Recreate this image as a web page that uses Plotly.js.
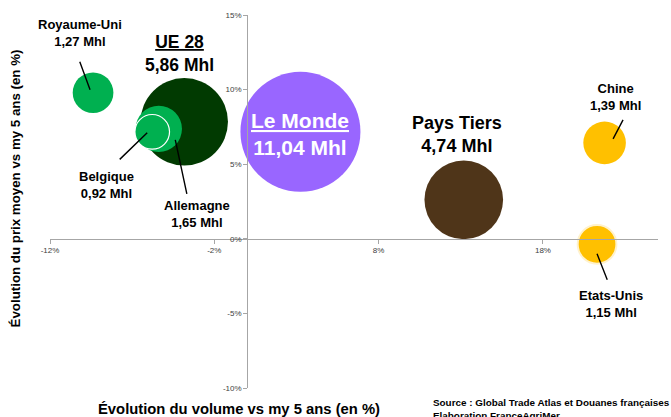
<!DOCTYPE html>
<html>
<head>
<meta charset="utf-8">
<script src="https://cdn.plot.ly/plotly-3.0.1.min.js"></script>
<style>html,body{margin:0;padding:0;background:#fff;}#chart{width:671px;height:417px;}</style>
</head>
<body>
<div id="chart"></div>
<script>
// ---- data ----
var names   = ["UE 28", "Allemagne", "Belgique", "Royaume-Uni", "Le Monde", "Pays Tiers", "Chine", "Etats-Unis"];
var volEvol = [-3.83, -5.38, -5.78, -9.38, 3.24, 13.18, 21.75, 21.29];   // % x
var priceEvol = [7.84, 7.37, 7.17, 9.79, 7.17, 2.61, 6.43, -0.37];      // % y
var volumes = [5.86, 1.65, 0.92, 1.27, 11.04, 4.74, 1.39, 1.15];        // Mhl
var colors  = ["#013A01", "#00B050", "#00B050", "#00B050", "#9966FF", "#4F3519", "#FFC000", "#FFC000"];
var xTickVals = [-12, -2, 8, 18];
var xTickText = ["-12%", "-2%", "8%", "18%"];
var yTickVals = [-10, -5, 0, 5, 10, 15];
var yTickText = ["-10%", "-5%", "0%", "5%", "10%", "15%"];

// ---- styles ----
var lineColors = ["#013A01", "#00B050", "#FFFFFF", "#00B050", "#9966FF", "#4F3519", "#FFC000", "#FFF2CC"];
var lineWidths = [0, 0, 1.2, 0, 0, 0, 0, 2];

function fmt(v){ return v.toFixed(2).replace('.', ','); }

var trace = {
  type: 'scatter', mode: 'markers',
  x: volEvol, y: priceEvol, text: names,
  marker: {
    size: volumes, sizemode: 'area', sizeref: 11.04 / 7200, sizemin: 1,
    color: colors, opacity: 1,
    line: {color: lineColors, width: lineWidths}
  },
  hoverinfo: 'skip'
};

// label placement relative to bubble centre (pixels)
var labelCfg = {
  "UE 28":      {dx: -5,   dy: 68,  size: 17.5, color: '#000', underline: true},
  "Allemagne":  {dx: 38.5, dy: -85, size: 13,   color: '#000'},
  "Belgique":   {dx: -46,  dy: -53, size: 13,   color: '#000'},
  "Royaume-Uni":{dx: -13,  dy: 60,  size: 13,   color: '#000'},
  "Le Monde":   {dx: 0,    dy: -2,  size: 21,   color: '#fff', underline: true},
  "Pays Tiers": {dx: -7,   dy: 65,  size: 18,   color: '#000'},
  "Chine":      {dx: 10.5, dy: 46,  size: 13,   color: '#000'},
  "Etats-Unis": {dx: 14,   dy: -59.5, size: 13, color: '#000'}
};
// leader lines: head shift from centre and tail offset from head (pixels)
var leaderCfg = {
  "Royaume-Uni": {hx: -3,   hy: 3,   ax: -11, ay: -30},
  "Belgique":    {hx: -5,   hy: -1,  ax: -29, ay: 28},
  "Allemagne":   {hx: 16.5, hy: -11, ax: 12,  ay: 56},
  "Chine":       {hx: 8.5,  hy: 4,   ax: 11,  ay: -21},
  "Etats-Unis":  {hx: 0,    hy: -9.5, ax: 11, ay: 28}
};

var annotations = [];
names.forEach(function(n, i){
  var lc = leaderCfg[n];
  if (lc) {
    annotations.push({
      x: volEvol[i], y: priceEvol[i], xref: 'x', yref: 'y',
      xshift: lc.hx, yshift: lc.hy,
      text: ' ', font: {size: 1},
      showarrow: true, arrowhead: 0, arrowwidth: 1.4, arrowcolor: '#000',
      ax: lc.ax, ay: lc.ay, standoff: 0, startstandoff: 0
    });
  }
});
names.forEach(function(n, i){
  var c = labelCfg[n];
  var first = c.underline ? '<u>' + n + '</u>' : n;
  annotations.push({
    x: volEvol[i], y: priceEvol[i], xref: 'x', yref: 'y',
    xshift: c.dx, yshift: c.dy,
    text: '<b>' + first + '<br>' + fmt(volumes[i]) + ' Mhl</b>',
    showarrow: false, align: 'center', xanchor: 'center', yanchor: 'middle',
    font: {family: 'Liberation Sans, Arial, sans-serif', size: c.size, color: c.color}
  });
});
// axis titles & source
annotations.push({
  xref: 'paper', yref: 'paper', x: -0.0576, y: 0.535,
  text: '<b>Évolution du prix moyen vs my 5 ans (en %)</b>', textangle: -90,
  showarrow: false, xanchor: 'center', yanchor: 'middle',
  font: {family: 'Liberation Sans, Arial, sans-serif', size: 13.3, color: '#000'}
});
annotations.push({
  xref: 'paper', yref: 'paper', x: (239 - 50) / 608, y: (388 - 409) / 373,
  text: '<b>Évolution du volume vs my 5 ans (en %)</b>',
  showarrow: false, xanchor: 'center', yanchor: 'middle',
  font: {family: 'Liberation Sans, Arial, sans-serif', size: 14.8, color: '#000'}
});
annotations.push({
  xref: 'paper', yref: 'paper', x: (431 - 50) / 608, y: (388 - 395) / 373,
  text: '<b>Source : Global Trade Atlas et Douanes françaises<br>Elaboration FranceAgriMer</b>',
  showarrow: false, xanchor: 'left', yanchor: 'top', align: 'left',
  font: {family: 'Liberation Sans, Arial, sans-serif', size: 9.9, color: '#000'}
});

var axisCommon = {
  showgrid: false, zeroline: false, showline: true, linecolor: '#A6A6A6', linewidth: 1,
  ticks: 'outside', ticklen: 4, tickcolor: '#A6A6A6', tickmode: 'array',
  tickfont: {family: 'Liberation Sans, Arial, sans-serif', size: 8, color: '#404040'},
  fixedrange: true
};

var layout = {
  width: 671, height: 417,
  margin: {l: 50, r: 13, t: 15, b: 29},
  paper_bgcolor: '#fff', plot_bgcolor: '#fff',
  showlegend: false, hovermode: false,
  xaxis: Object.assign({}, axisCommon, {
    range: [-12, 25], tickvals: xTickVals, ticktext: xTickText,
    anchor: 'free', position: 10 / 25
  }),
  yaxis: Object.assign({}, axisCommon, {
    range: [-10, 15], tickvals: yTickVals, ticktext: yTickText,
    anchor: 'free', position: 12 / 37
  }),
  annotations: annotations
};

Plotly.newPlot('chart', [trace], layout, {displayModeBar: false, staticPlot: true});
</script>
</body>
</html>
